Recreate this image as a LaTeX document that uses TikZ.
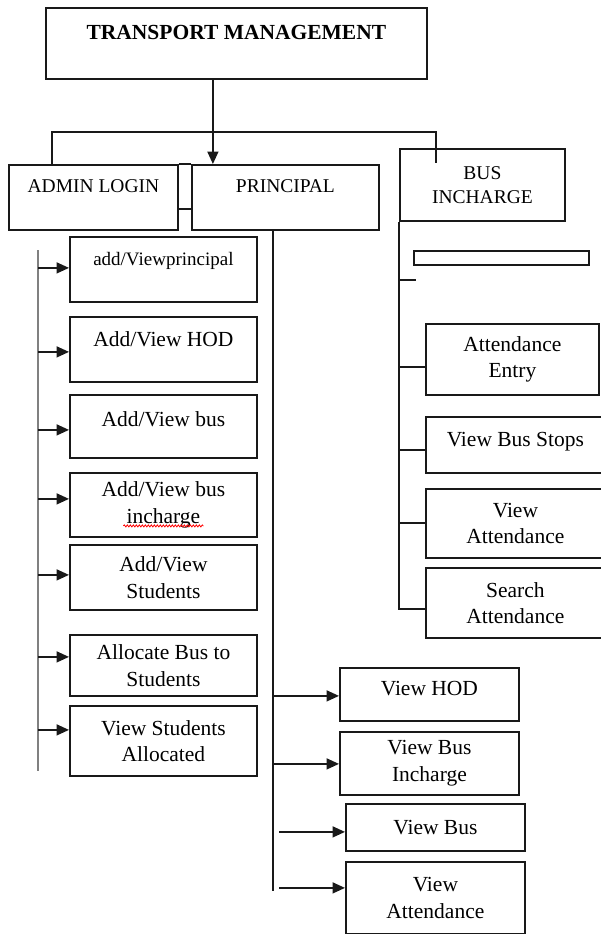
\documentclass[tikz,border=0pt]{standalone}
\usepackage{fontspec}
\setmainfont{Liberation Serif}
\usetikzlibrary{calc,arrows.meta,positioning,decorations.pathmorphing}

\newcommand{\tline}[2]{\raisebox{#1}[0pt][0pt]{#2}}

\begin{document}
\begin{tikzpicture}[x=1pt, y=-1pt,
    box/.style={draw=black!90, line width=1.8pt, inner sep=0pt, anchor=north west, align=center, font=\fontsize{21.5}{26.5}\selectfont},
    capsbox/.style={box, font=\fontsize{19.5}{24}\selectfont},
    link/.style={line width=1.7pt, black!90},
    arr/.style={link, -{Triangle[length=12.5pt,width=11pt]}},
    spine/.style={line width=2.8pt, black!50}]
        \useasboundingbox (0,0) rectangle (601,934);

        % top level
        \node[box, font=\fontsize{21.5}{26}\selectfont\bfseries, minimum width=381pt, minimum height=71pt] (title) at (45,7) {\tline{4pt}{TRANSPORT MANAGEMENT}};
        \node[capsbox, minimum width=169pt, minimum height=65pt] (admin) at (8,164) {\tline{4.5pt}{ADMIN LOGIN}};
        \node[capsbox, minimum width=187pt, minimum height=65pt] (principal) at (191,164) {\tline{4.5pt}{PRINCIPAL}};
        \node[capsbox, minimum width=165pt, minimum height=72pt] (busin) at (399,148) {BUS\\INCHARGE};

        % admin side
        \node[box, font=\fontsize{19}{23}\selectfont, minimum width=187pt, minimum height=65pt] (aprin) at (69,236) {\tline{3.5pt}{add/Viewprincipal}};
        \node[box, minimum width=187pt, minimum height=65pt] (ahod) at (69,316) {\tline{2.5pt}{Add/View HOD}};
        \node[box, minimum width=187pt, minimum height=63pt] (abus) at (69,394) {\tline{-0.5pt}{Add/View bus}};
        \node[box, minimum width=187pt, minimum height=64pt] (abinc) at (69,472) {Add/View bus\\incharge};
        \node[box, minimum width=187pt, minimum height=65pt] (astu) at (69,544) {Add/View\\Students};
        \node[box, minimum width=187pt, minimum height=61pt] (aalloc) at (69,634) {Allocate Bus to\\Students};
        \node[box, minimum width=187pt, minimum height=70pt] (aview) at (69,705) {View Students\\Allocated};
        \draw[red, line width=0.8pt, decorate, decoration={snake, amplitude=1pt, segment length=3pt}] ($(abinc.center)+(-40,21)$) -- ($(abinc.center)+(40,21)$);

        % bus incharge side
        \node[box, minimum width=175pt, minimum height=14pt] (blank) at (413,250) {};
        \node[box, minimum width=173pt, minimum height=71pt] (att) at (425,323) {Attendance\\Entry};
        \node[box, minimum width=179pt, minimum height=56pt] (vstops) at (425,416) {\tline{-2pt}{View Bus Stops}};
        \node[box, minimum width=179pt, minimum height=69pt] (vbatt) at (425,488) {View\\Attendance};
        \node[box, minimum width=179pt, minimum height=70pt] (search) at (425,567) {Search\\Attendance};

        % principal side
        \node[box, minimum width=179pt, minimum height=53pt] (vhod) at (339,667) {\tline{-1.5pt}{View HOD}};
        \node[box, minimum width=179pt, minimum height=63pt] (vbinc) at (339,731) {View Bus\\Incharge};
        \node[box, minimum width=179pt, minimum height=47pt] (vbus) at (345,803) {View Bus};
        \node[box, minimum width=179pt, minimum height=72pt] (vatt) at (345,861) {View\\Attendance};

        % links from the top
        \coordinate (drop) at ($(title.south)+(-23.5,0)$);
        \draw[arr] (drop) -- (drop |- principal.north);
        \coordinate (bar) at ($(busin.north west)+(37,-16)$);
        \coordinate (barend) at ($(bar)+(0,31)$);
        \draw[link] ($(admin.north west)+(44,0)$) |- (bar) -- (barend);
        \draw[link] (admin.north east) -- (principal.north west);
        \draw[link] ($(admin.east)+(0,11.5)$) -- ($(principal.west)+(0,11.5)$);

        % left spine
        \coordinate (ltop) at (38,250);
        \coordinate (lbot) at (38,771);
        \draw[spine] (ltop) -- (lbot);
        \foreach \n/\d in {aprin/-1.5, ahod/2.5, abus/3.5, abinc/-6, astu/-2.5, aalloc/-8.5, aview/-11}
            \draw[arr] ($(\n.west -| ltop)+(0,\d)$) -- ($(\n.west)+(0,\d)$);

        % principal spine
        \coordinate (ptop) at ($(principal.south west)+(82,0)$);
        \coordinate (pbot) at ($(ptop)+(0,660)$);
        \draw[link] (ptop) -- (pbot);
        \foreach \n/\d in {vhod/1.5, vbinc/0.5}
            \draw[arr] ($(\n.west -| ptop)+(0,\d)$) -- ($(\n.west)+(0,\d)$);
        \foreach \n/\d in {vbus/4.5, vatt/-10}
            \draw[arr] ($(\n.west -| ptop)+(6,\d)$) -- ($(\n.west)+(0,\d)$);

        % bus incharge spine
        \coordinate (btop) at (busin.south west);
        \coordinate (tick) at ($(btop)+(17,58)$);
        \draw[link] (btop) -- ($(search.west -| btop)+(0,6)$) -- ($(search.west)+(0,6)$);
        \draw[link] (btop |- tick) -- (tick);
        \foreach \n/\d in {att/7.5, vstops/5, vbatt/-0.5}
            \draw[link] ($(\n.west -| btop)+(0,\d)$) -- ($(\n.west)+(0,\d)$);
    \end{tikzpicture}
\end{document}
